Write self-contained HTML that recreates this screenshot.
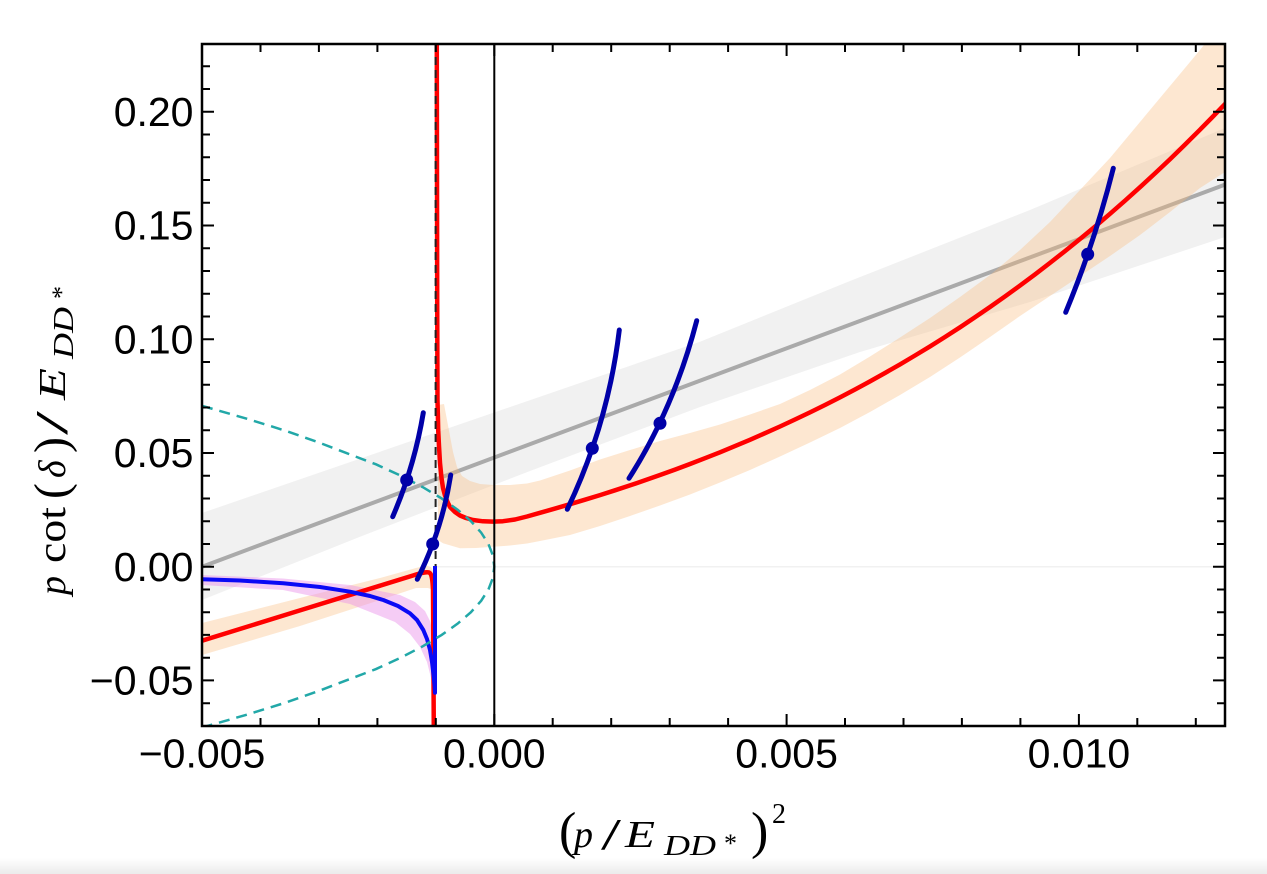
<!DOCTYPE html>
<html>
<head>
<meta charset="utf-8">
<style>
html,body{margin:0;padding:0;background:#fff;}
svg{display:block;}
</style>
</head>
<body>
<svg width="1267" height="874" viewBox="0 0 1267 874" xmlns="http://www.w3.org/2000/svg">
<defs>
<clipPath id="c"><rect x="202" y="44" width="1023" height="682"/></clipPath>
<linearGradient id="bg" x1="0" y1="0" x2="0" y2="1">
<stop offset="0" stop-color="#ffffff"/><stop offset="1" stop-color="#ebebeb"/>
</linearGradient>
</defs>
<rect width="1267" height="874" fill="#fff"/>
<rect x="0" y="858" width="1267" height="16" fill="url(#bg)"/>

<g clip-path="url(#c)">
<!-- gray band -->
<path d="M202,513 L700,341.7 L850,281 L1030,210 L1225,128 L1225,237 L1030,302 L860,352 L700,407 L530,471 L360,536.7 L202,600 Z" fill="#f1f1f1"/>
<!-- gray line -->
<path d="M202,566.7 L1225,184.6" stroke="#aaaaaa" stroke-width="4" fill="none"/>
<!-- orange band right -->
<path d="M438,405 L444,404 L447,420 L450,436 L453,452 L457,467 L462,476 L470,481 L480,484 L493,485 L510,485 L527,483.5 L540,480.5 L570,470.5 L600,459.5 L630,450 L660,441 L690,433 L720,424.5 L750,414.5 L780,404 L810,390 L840,374.5 L870,356.5 L900,337.5 L930,318 L960,297 L990,275 L1020,250 L1050,222 L1080,190 L1110,158 L1140,122 L1170,86 L1200,50 L1230,12 L1240,0 L1240,162 L1225,172 L1200,188 L1170,212 L1140,235 L1110,256 L1080,276 L1050,296 L1020,316 L990,337 L960,357.5 L930,377 L900,395 L870,412 L840,428 L810,442.5 L780,456.5 L750,470 L720,482.5 L690,494.5 L660,505.5 L630,516 L600,526 L570,535 L540,541 L527,543.5 L510,545.5 L493,546.7 L476,548 L460,548.3 L443,543.3 L438,540 Z" fill="#f9b97a" fill-opacity="0.35"/>
<!-- orange band left -->
<path d="M202,623 L300,598 L380,578 L416,568 L426,565.5 L431,567 L434,573 L434,590 L428,588 L416,588 L380,600 L300,626 L202,655 Z" fill="#f9b97a" fill-opacity="0.35"/>
<!-- pink band -->
<path d="M202,575 L283,578.5 L350,585 L400,595 L415,602 L425,611 L430,621 L433,634 L435,660 L435,700 L431,678 L427,662 L420,647 L410,634 L395,622 L350,604 L283,590 L202,585 Z" fill="#e88ee8" fill-opacity="0.45"/>
<!-- faint zero line -->
<path d="M436,566.7 L1225,566.7" stroke="#f1f1f1" stroke-width="1.5"/>
<!-- red left branch -->
<path d="M202,640.7 L300,610.4 L380,585.7 L413,575.5 C420,573.3 426,571.5 429,572.5 C431.5,573.5 432.5,578 433,590 L433.8,730" stroke="#ff0000" stroke-width="4.5" fill="none" stroke-linejoin="round"/>
<!-- red right branch -->
<polyline points="436.8,40 437.2,300 437.5,400 438.2,430 439,446 440,463 441.5,478 443,488 445,495.5 447.5,502 450,507 455,512 460,515.5 466,518 473,520 483,521.3 493,521.6 503,521.2 515,519.5 527,516.5 540,512.8 555,508.6 570,504.2 585,499.7 600,495.1 615,490.3 630,485.4 645,480.3 660,475 675,469.6 690,464 705,458.2 720,452.3 735,446.1 750,439.8 765,433.2 780,426.5 795,419.5 810,412.4 825,405 840,397.4 855,389.5 870,381.4 885,373 900,364.4 915,355.5 930,346.4 945,337 960,327.3 975,317.3 990,307 1005,296.4 1020,285.6 1035,274.4 1050,262.9 1065,251.1 1080,239 1095,226.6 1110,213.8 1125,200.7 1140,187.2 1155,173.4 1170,159.2 1185,144.6 1200,129.7 1212,117.5 1225,104 1239,89" stroke="#ff0000" stroke-width="4.5" fill="none" stroke-linejoin="round"/>
<!-- blue curve -->
<polyline points="202,579.3 240,580.5 283.3,583.3 320,587 350,591.7 370,596 383.3,600 398,606 410,613.3 417,620 423.3,630 427,639 430,650 432,662 433.3,673.3 434.5,685 435,692.7 435,566" stroke="#0a0af5" stroke-width="4" fill="none" stroke-linejoin="round"/>
<!-- cyan dashed -->
<polyline points="202,405.85 247.31,418.84 283.84,430.22 316.46,441.59 346.15,452.96 376,464.34 400.76,475.71 422.68,487.09 441.68,498.46 457.75,509.83 470.91,521.21 481.14,532.58 488.45,543.95 492.83,555.33 494.29,566.7 492.83,578.07 488.45,589.45 481.14,600.82 470.91,612.19 457.75,623.57 441.68,634.94 422.68,646.31 400.76,657.69 376,669.06 346.15,680.44 316.46,691.81 283.84,703.18 247.31,714.56 202,727.55" stroke="#22a8a8" stroke-width="2.5" fill="none" stroke-dasharray="11 7"/>
<!-- dashed black vertical -->
<path d="M435.6,44 L435.6,566" stroke="#222" stroke-width="2" stroke-dasharray="8 5"/>
<!-- zero vertical -->
<path d="M494.3,44 L494.3,726" stroke="#000" stroke-width="2"/>
<!-- navy data segments -->
<g stroke="#0000a8" stroke-width="5" fill="none" stroke-linecap="round">
<path d="M392.7,516.7 Q414.3,466.8 423.3,412.7"/>
<path d="M417.3,579.3 Q442.1,529.9 450.7,475"/>
<path d="M567.3,509.3 Q608,424.3 619.3,330"/>
<path d="M629,478.3 Q674,408 696.7,320.7"/>
<path d="M1065.7,312.3 Q1094.7,242.1 1113.3,168.3"/>
</g>
<g fill="#0000a8">
<circle cx="406.7" cy="480" r="6.5"/>
<circle cx="432.7" cy="544" r="6.5"/>
<circle cx="592.3" cy="448.3" r="6.5"/>
<circle cx="660" cy="423.3" r="6.5"/>
<circle cx="1087.7" cy="254.3" r="6.5"/>
</g>
</g>

<!-- frame -->
<rect x="202" y="44" width="1023" height="682" fill="none" stroke="#000" stroke-width="2.5"/>
<!-- ticks -->
<path stroke="#000" stroke-width="2" fill="none" d="
M202,726v-12 M494.3,726v-12 M786.6,726v-12 M1078.9,726v-12
M260.5,726v-8 M318.9,726v-8 M377.4,726v-8 M435.8,726v-8 M552.7,726v-8 M611.2,726v-8 M669.7,726v-8 M728.1,726v-8 M845,726v-8 M903.5,726v-8 M961.9,726v-8 M1020.4,726v-8 M1137.3,726v-8 M1195.8,726v-8
M202,44v12 M494.3,44v12 M786.6,44v12 M1078.9,44v12
M260.5,44v8 M318.9,44v8 M377.4,44v8 M435.8,44v8 M552.7,44v8 M611.2,44v8 M669.7,44v8 M728.1,44v8 M845,44v8 M903.5,44v8 M961.9,44v8 M1020.4,44v8 M1137.3,44v8 M1195.8,44v8
M202,680.4h12 M202,566.7h12 M202,453h12 M202,339.2h12 M202,225.5h12 M202,111.8h12
M202,703.2h8 M202,657.7h8 M202,634.9h8 M202,612.2h8 M202,589.5h8 M202,544h8 M202,521.2h8 M202,498.5h8 M202,475.7h8 M202,430.2h8 M202,407.5h8 M202,384.7h8 M202,362h8 M202,316.5h8 M202,293.7h8 M202,271h8 M202,248.2h8 M202,202.8h8 M202,180h8 M202,157.3h8 M202,134.5h8 M202,89h8 M202,66.3h8
M1225,680.4h-12 M1225,566.7h-12 M1225,453h-12 M1225,339.2h-12 M1225,225.5h-12 M1225,111.8h-12
M1225,703.2h-8 M1225,657.7h-8 M1225,634.9h-8 M1225,612.2h-8 M1225,589.5h-8 M1225,544h-8 M1225,521.2h-8 M1225,498.5h-8 M1225,475.7h-8 M1225,430.2h-8 M1225,407.5h-8 M1225,384.7h-8 M1225,362h-8 M1225,316.5h-8 M1225,293.7h-8 M1225,271h-8 M1225,248.2h-8 M1225,202.8h-8 M1225,180h-8 M1225,157.3h-8 M1225,134.5h-8 M1225,89h-8 M1225,66.3h-8
"/>

<!-- tick labels -->
<g font-family="'Liberation Sans', Arial, sans-serif" font-size="41" fill="#000">
<g text-anchor="end">
<text x="193.5" y="126">0.20</text>
<text x="193.5" y="239.7">0.15</text>
<text x="193.5" y="353.4">0.10</text>
<text x="193.5" y="467.2">0.05</text>
<text x="193.5" y="580.9">0.00</text>
<text x="193.5" y="694.6">−0.05</text>
</g>
<g text-anchor="middle">
<text x="202" y="767.5">−0.005</text>
<text x="494.3" y="767.5">0.000</text>
<text x="786.6" y="767.5">0.005</text>
<text x="1078.9" y="767.5">0.010</text>
</g>
</g>

<!-- x axis label -->
<g font-family="'Liberation Serif', 'Times New Roman', serif" fill="#000">
<text x="559" y="848" font-size="52">(</text>
<text x="574" y="847" font-size="38" font-style="italic">p</text>
<text x="601" y="849" font-size="44" textLength="20" lengthAdjust="spacingAndGlyphs">/</text>
<text x="625" y="847" font-size="38" font-style="italic" textLength="30" lengthAdjust="spacingAndGlyphs">E</text>
<text x="664" y="855" font-size="28" font-style="italic" textLength="52" lengthAdjust="spacingAndGlyphs">DD</text>
<text x="724" y="852" font-size="26">*</text>
<text x="751" y="848" font-size="52">)</text>
<text x="772" y="823" font-size="28">2</text>
</g>

<!-- y axis label -->
<g transform="translate(65,595) rotate(-90)" font-family="'Liberation Serif', 'Times New Roman', serif" fill="#000">
<text x="0" y="0" font-size="38" font-style="italic">p</text>
<text x="32" y="0" font-size="40" textLength="56" lengthAdjust="spacingAndGlyphs">cot</text>
<text x="96" y="2" font-size="48">(</text>
<text x="117" y="0" font-size="38" font-style="italic">δ</text>
<text x="142" y="2" font-size="48">)</text>
<text x="160" y="2" font-size="46" textLength="24" lengthAdjust="spacingAndGlyphs">/</text>
<text x="195" y="0" font-size="38" font-style="italic" textLength="32" lengthAdjust="spacingAndGlyphs">E</text>
<text x="236" y="8" font-size="28" font-style="italic" textLength="52" lengthAdjust="spacingAndGlyphs">DD</text>
<text x="296" y="5" font-size="26">*</text>
</g>
</svg>
</body>
</html>
